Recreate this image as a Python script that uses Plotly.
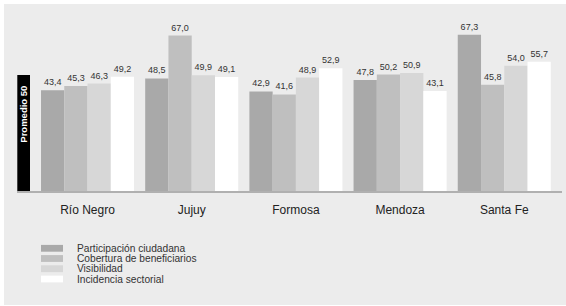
import plotly.graph_objects as go

categories = ["Río Negro", "Jujuy", "Formosa", "Mendoza", "Santa Fe"]
series_names = ["Participación ciudadana", "Cobertura de beneficiarios", "Visibilidad", "Incidencia sectorial"]
participacion = [43.4, 48.5, 42.9, 47.8, 67.3]
cobertura = [45.3, 67.0, 41.6, 50.2, 45.8]
visibilidad = [46.3, 49.9, 48.9, 50.9, 54.0]
incidencia = [49.2, 49.1, 52.9, 43.1, 55.7]
promedio = 50
series_values = [participacion, cobertura, visibilidad, incidencia]
colors = ["#a9a9a9", "#bfbfbf", "#d7d7d7", "#ffffff"]

FONT = "Liberation Sans, Arial, sans-serif"

fig = go.Figure()
for name, vals, col in zip(series_names, series_values, colors):
    fig.add_trace(go.Bar(
        x=categories, y=vals, name=name,
        marker=dict(color=col, line=dict(width=0)),
        texttemplate="%{y:.1f}", textposition="outside",
        textfont=dict(family=FONT, size=9, color="#333333"),
        cliponaxis=False, showlegend=False, hoverinfo="skip",
    ))

W, H = 566, 306
ml, mr, mt, mb = 17, 4, 17, 115
pw = W - ml - mr
ph = H - mt - mb

def px_x(px):
    return (px - ml) / pw

def px_y(py):
    return (H - mb - py) / ph

shapes = []
# background panel
shapes.append(dict(type="rect", xref="paper", yref="paper",
                   x0=px_x(4), x1=px_x(566), y0=px_y(305), y1=px_y(4),
                   fillcolor="#ececec", line=dict(width=0), layer="below"))
# promedio bar
shapes.append(dict(type="rect", xref="paper", yref="y",
                   x0=px_x(17.3), x1=px_x(30), y0=0, y1=promedio,
                   fillcolor="#000000", line=dict(width=0), layer="above"))

annotations = [dict(text="<b>Promedio %d</b>" % promedio, xref="paper", yref="y",
                    x=px_x(23.7), y=33.2, textangle=-90, showarrow=False,
                    font=dict(family=FONT, size=9.5, color="#ffffff"),
                    xanchor="center", yanchor="middle")]

# legend drawn manually
row_y = [248.3, 258.5, 268.7, 279.0]
for name, col, ry in zip(series_names, colors, row_y):
    shapes.append(dict(type="rect", xref="paper", yref="paper",
                       x0=px_x(41), x1=px_x(63), y0=px_y(ry + 3.4), y1=px_y(ry - 3.4),
                       fillcolor=col, line=dict(width=0)))
    annotations.append(dict(text=name, xref="paper", yref="paper",
                            x=px_x(76), y=px_y(ry), xanchor="left", yanchor="middle",
                            showarrow=False, borderpad=0,
                            font=dict(family=FONT, size=10.2, color="#333333")))

fig.update_layout(
    width=W, height=H,
    margin=dict(l=ml, r=mr, t=mt, b=mb, pad=0),
    paper_bgcolor="#ffffff",
    plot_bgcolor="rgba(0,0,0,0)",
    barmode="group", bargap=0.107, bargroupgap=0,
    separators=", ",
    font=dict(family=FONT),
    hovermode=False,
    xaxis=dict(range=[-0.677, 4.554], showline=True, linecolor="#b0b0b0", linewidth=1.5,
               ticks="", showgrid=False, zeroline=False, automargin=False,
               ticklabelstandoff=7,
               tickfont=dict(family=FONT, size=12, color="#222222")),
    yaxis=dict(range=[0, 75], visible=False, showgrid=False, zeroline=False, automargin=False),
    shapes=shapes, annotations=annotations, showlegend=False,
)

fig.write_html("out.html", config={"displayModeBar": False},
               post_script="document.body.style.margin='0';")
